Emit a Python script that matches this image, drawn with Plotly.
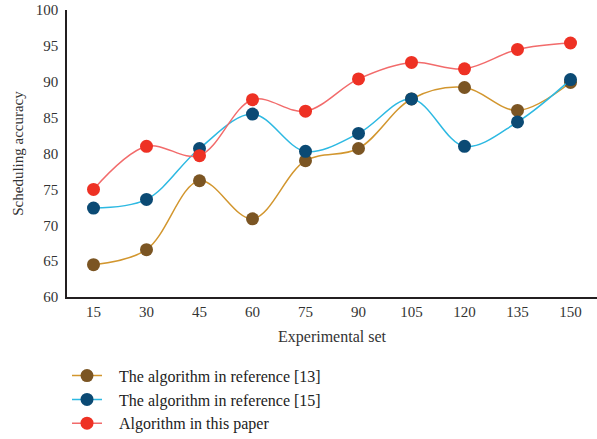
import plotly.graph_objects as go

categories = ["15", "30", "45", "60", "75", "90", "105", "120", "135", "150"]
ref13 = [64.5, 66.6, 76.2, 70.9, 79.0, 80.7, 87.6, 89.2, 86.0, 89.9]
ref15 = [72.4, 73.6, 80.7, 85.5, 80.3, 82.8, 87.6, 81.0, 84.4, 90.3]
this_paper = [75.0, 81.0, 79.7, 87.5, 85.9, 90.4, 92.7, 91.8, 94.5, 95.4]
y_ticks = [60, 65, 70, 75, 80, 85, 90, 95, 100]

series = [
    ("The algorithm in reference [13]", ref13, "#D2962E", "#7B5523"),
    ("The algorithm in reference [15]", ref15, "#2DB9E2", "#0B4A74"),
    ("Algorithm in this paper", this_paper, "#F26B6B", "#EE3124"),
]

fig = go.Figure()
for i, (name, vals, lc, mc) in enumerate(series):
    fig.add_trace(go.Scatter(
        x=categories, y=vals, name="&nbsp;&nbsp;&nbsp;" + name, mode="lines+markers",
        line=dict(color=lc, width=1.5, shape="spline", smoothing=1.0),
        marker=dict(color=mc, size=13),
    ))

font_family = "Liberation Serif, DejaVu Serif, serif"
fig.update_layout(
    width=597, height=439,
    margin=dict(l=67, r=0, t=10, b=142, autoexpand=False),
    paper_bgcolor="white", plot_bgcolor="white",
    font=dict(family=font_family, size=15, color="#333333"),
    showlegend=True,
    legend=dict(
        x=0.0, xanchor="left", y=-0.215, yanchor="top",
        font=dict(family=font_family, size=16, color="#222222"),
        bgcolor="rgba(0,0,0,0)",
    ),
    xaxis=dict(
        type="category", range=[-0.5, 9.5],
        showline=True, linecolor="#231F20", linewidth=1.5,
        showgrid=False, ticks="", ticklen=0, ticklabelstandoff=0,
        title=dict(text="Experimental set", standoff=12,
                   font=dict(family=font_family, size=16, color="#333333")),
        zeroline=False,
    ),
    yaxis=dict(
        range=[60, 100], tickvals=y_ticks,
        showline=True, linecolor="#231F20", linewidth=1.5,
        showgrid=False, ticks="", zeroline=False, ticklabelstandoff=4,
        title=dict(text="Scheduling accuracy", standoff=9,
                   font=dict(family=font_family, size=15, color="#333333")),
    ),
)

fig.write_html("out.html", config={"displayModeBar": False},
               post_script="document.body.style.margin='0';")
